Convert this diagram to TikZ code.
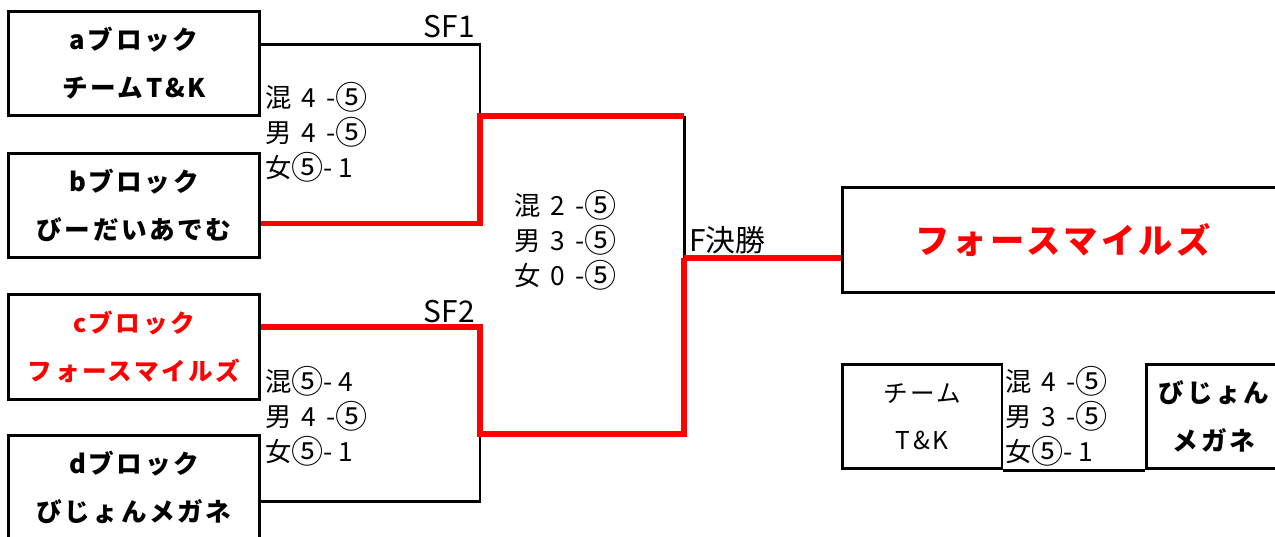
\documentclass[tikz,border=0pt]{standalone}
\usepackage{fontspec}
\usepackage{graphicx}
\setmainfont{Noto Sans CJK JP}
\newfontfamily\teamfont{Noto Sans CJK JP}[LetterSpace=10]
\newcommand\maru{\raisebox{-0.05em}{\scalebox{1.22}{⑤}}}
\newcommand\gap{\hspace{0.38em}}
\begin{document}
\begin{tikzpicture}[x=0.02cm, y=-0.02cm,
    team/.style={draw, line width=1.7pt, minimum width=5.04cm, minimum height=2.1cm,
        inner sep=0pt, align=center, font=\teamfont\bfseries\fontsize{14.6}{27.3}\selectfont},
    score/.style={anchor=west, inner sep=0pt, align=left, font=\fontsize{15}{19.9}\selectfont},
    label/.style={inner sep=0pt, font=\fontsize{17}{18}\selectfont},
    loser/.style={line width=1.7pt},
    winner/.style={line width=2.9pt, red}]
        % Setup the frame
        \path[use as bounding box, clip] (0,0) rectangle (1275,537);

        % Blocks
        \node[team] (a) at (134,63.5) {aブロック\\チームT\&K};
        \node[team] (b) at (134,205.5) {bブロック\\びーだいあでむ};
        \node[team, text=red, font=\teamfont\bfseries\fontsize{14}{27.3}\selectfont]
            (c) at (134,347) {cブロック\\フォースマイルズ};
        \node[team] (d) at (134,487.5) {dブロック\\びじょんメガネ};

        % Bracket corners
        \coordinate (sf1) at (480,116);
        \coordinate (sf2) at (480,434);
        \coordinate (fin) at (684,258);

        % Semi finals
        \draw[loser] (a.north east) ++(0,35) -| (sf1);
        \draw[loser] (d.north east) ++(0,68) -| (sf2);
        \draw[loser] (sf1 -| fin) -- (fin);
        \draw[winner] (b.south east) ++(0,-36) -| (sf1) -- (sf1 -| fin);
        \draw[winner] (c.north east) ++(0,34) -| (sf2) -- (sf2 -| fin) -- (fin);

        \node[label, anchor=base east] (sf1lbl) at (475,38) {SF1};
        \node[label, anchor=base east] (sf2lbl) at (475,322) {SF2};

        \node[score] (sf1score) at (265,132) {混\gap 4\gap -\maru\\男\gap 4\gap -\maru\\女\maru- 1};
        \node[score] (sf2score) at (265,416) {混\maru- 4\\男\gap 4\gap -\maru\\女\maru- 1};

        % Final
        \node[team, minimum width=8.84cm, text=red, font=\teamfont\bfseries\fontsize{19.5}{22}\selectfont]
            (final) at (1063,240) {フォースマイルズ};
        \draw[winner] (fin) -- (fin -| final.west);
        \node[label, anchor=base west] (finlbl) at (689,251) {F決勝};
        \node[score] (finscore) at (514,240) {混\gap 2\gap -\maru\\男\gap 3\gap -\maru\\女\gap 0\gap -\maru};

        % Third place
        \node[team, minimum width=3.2cm, font=\teamfont\fontsize{14}{26.7}\selectfont]
            (tk) at (922,416.5) {チーム\\T\&K};
        \node[team, minimum width=2.72cm] (bm) at (1214,416.5) {びじょん\\メガネ};
        \draw[loser] (tk.south east) -- (bm.south west);
        \node[score] (thirdscore) at (1005,416) {混\gap 4\gap -\maru\\男\gap 3\gap -\maru\\女\maru- 1};
    \end{tikzpicture}
\end{document}
